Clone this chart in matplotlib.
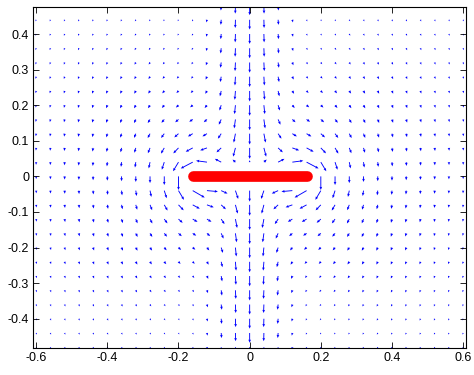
import numpy as np
import matplotlib
matplotlib.use("Agg")
import matplotlib.pyplot as plt

plt.rcParams['font.family'] = ['Liberation Sans', 'DejaVu Sans']
plt.rcParams['axes.unicode_minus'] = False

# sample grid of the quiver plot
x_grid = np.linspace(-0.6, 0.6, 31)
y_grid = np.linspace(-0.48, 0.48, 25)

# the plate (red bar)
plate_x = [-0.16, 0.16]
plate_y = [0.0, 0.0]
a = plate_x[1]

# field strengths (data units)
D = 0.03        # plate disturbance
U0 = 0.010      # background downward flow
J = 0.021       # central downward jet
w = 0.09        # jet half-width

X, Y = np.meshgrid(x_grid, y_grid)
Z = X + 1j * Y


def disturbance(z):
    s = np.sqrt(z - a) * np.sqrt(z + a)
    W = 1j * (z / s - 1)
    return W.real, -W.imag


du, dv = disturbance(Z)
_, dv0 = disturbance(0j + 1j * Y + 1e-9)

r2 = X ** 2 + Y ** 2
grow = 1 + 2.2 * np.sqrt(r2)
back = U0 / (1 + r2 / 0.35)
U = D * du * grow
V = D * dv * grow - back
stag = 1 - 0.8 * np.exp(-((Y - 0.04) / 0.015) ** 2)
V = V - np.exp(-(X / w) ** 2) * (J + D * dv0 * grow) * stag

# clip very long arrows at the plate tips
mag = np.hypot(U, V)
f = np.minimum(1, 0.05 / np.maximum(mag, 1e-12))
U = U * f
V = V * f

# hide points lying on the plate
on_plate = (np.abs(Y) < 1e-9) & (np.abs(X) <= a + 1e-9)
U[on_plate] = np.nan
V[on_plate] = np.nan

fig = plt.figure(figsize=(4.74, 3.75), dpi=100)
ax = fig.add_axes([0.0703, 0.0712, 0.9128, 0.9093])

ax.quiver(X, Y, U, V, angles='xy', scale_units='xy', scale=1,
          color='#0000ff', units='dots', width=0.9, headwidth=3,
          headlength=3.5, headaxislength=3.2, minlength=0.5)

ax.plot(plate_x, plate_y, color='red', linewidth=7.7, solid_capstyle='round')

ax.set_xlim(-0.608, 0.608)
ax.set_ylim(-0.483, 0.475)
ax.set_xticks([-0.6, -0.4, -0.2, 0, 0.2, 0.4, 0.6])
ax.set_xticklabels(['-0.6', '-0.4', '-0.2', '0', '0.2', '0.4', '0.6'])
ax.set_yticks([-0.4, -0.3, -0.2, -0.1, 0, 0.1, 0.2, 0.3, 0.4])
ax.set_yticklabels(['-0.4', '-0.3', '-0.2', '-0.1', '0', '0.1', '0.2', '0.3', '0.4'])
ax.tick_params(direction='in', length=4.3, width=0.6, top=True, right=True,
               labelsize=9, pad=3)
for s in ax.spines.values():
    s.set_linewidth(0.8)

fig.savefig('out.png', dpi=100)
